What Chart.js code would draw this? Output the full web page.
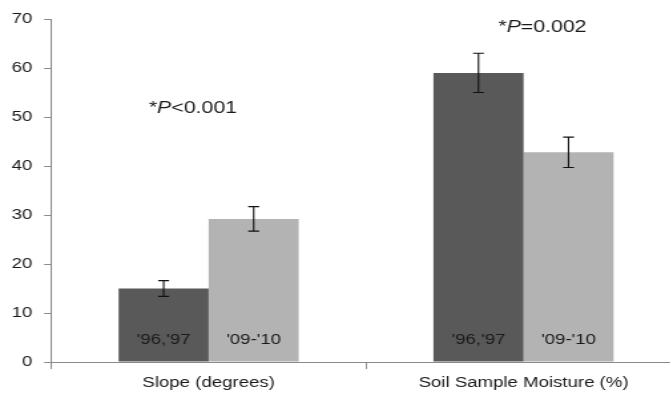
<!DOCTYPE html>
<html>
<head>
<meta charset="utf-8">
<script src="https://cdn.jsdelivr.net/npm/chart.js@4"></script>
<style>
  html, body { margin: 0; padding: 0; overflow: hidden; background: #fff; }
  /* the source figure is stretched sideways, so draw narrow and scale */
  #wrap { width: 513px; height: 403px; transform: scaleX(1.33); transform-origin: 0 0; }
</style>
</head>
<body>
<div id="wrap"><canvas id="chart"></canvas></div>
<script>
const categories = ['Slope (degrees)', 'Soil Sample Moisture (%)'];
const periods = ["'96,'97", "'09-'10"];
const earlyValues = [15, 59];
const lateValues = [29.2, 42.8];
const earlyErrors = [1.6, 4.0];
const lateErrors = [2.5, 3.1];
const pTexts = [['*', 'P', '<0.001'], ['*', 'P', '=0.002']];
const pTextX = [-0.05, 1.06];
const pTextY = [51.8, 68.2];
const periodLabelY = 4.5;

const FONT = '"Liberation Sans", Arial, sans-serif';
const errors = [earlyErrors, lateErrors];

const extras = {
    id: 'extras',
    afterDatasetsDraw(chart) {
        const ctx = chart.ctx;
        const y = chart.scales.y;
        const x = chart.scales.x;
        ctx.save();
        chart.data.datasets.forEach((ds, di) => {
            chart.getDatasetMeta(di).data.forEach((bar, i) => {
                const v = ds.data[i];
                const e = errors[di][i];
                const top = y.getPixelForValue(v + e);
                const bot = y.getPixelForValue(v - e);
                ctx.strokeStyle = '#111';
                ctx.lineWidth = 1.1;
                ctx.beginPath();
                ctx.moveTo(bar.x, top); ctx.lineTo(bar.x, bot);
                ctx.moveTo(bar.x - 4.1, top); ctx.lineTo(bar.x + 4.1, top);
                ctx.moveTo(bar.x - 4.1, bot); ctx.lineTo(bar.x + 4.1, bot);
                ctx.stroke();

                ctx.fillStyle = '#1a1a1a';
                ctx.font = '14px ' + FONT;
                ctx.textAlign = 'center';
                ctx.textBaseline = 'middle';
                ctx.fillText(ds.label, bar.x, y.getPixelForValue(periodLabelY));
            });
        });

        pTexts.forEach((parts, i) => {
            const fonts = ['16px ' + FONT, 'italic 16px ' + FONT, '16px ' + FONT];
            let w = 0;
            parts.forEach((p, k) => { ctx.font = fonts[k]; w += ctx.measureText(p).width; });
            let px = x.getPixelForValue(pTextX[i]) - w / 2;
            const py = y.getPixelForValue(pTextY[i]);
            ctx.fillStyle = '#1a1a1a';
            ctx.textAlign = 'left';
            ctx.textBaseline = 'middle';
            parts.forEach((p, k) => {
                ctx.font = fonts[k];
                ctx.fillText(p, px, py);
                px += ctx.measureText(p).width;
            });
        });
        ctx.restore();
    }
};

new Chart(document.getElementById('chart'), {
    type: 'bar',
    data: {
        labels: categories,
        datasets: [
            {
                label: periods[0],
                data: earlyValues,
                backgroundColor: '#595959',
                categoryPercentage: 0.572,
                barPercentage: 1.0,
            },
            {
                label: periods[1],
                data: lateValues,
                backgroundColor: '#b3b3b3',
                categoryPercentage: 0.572,
                barPercentage: 1.0,
            }
        ]
    },
    options: {
        responsive: true,
        maintainAspectRatio: false,
        animation: false,
        layout: { padding: { top: 19, right: 1, left: 0, bottom: 0 } },
        plugins: {
            legend: { display: false },
            tooltip: { enabled: false }
        },
        scales: {
            x: {
                grid: { drawOnChartArea: false, tickLength: 7, color: '#8a8a8a', offset: true },
                border: { color: '#8a8a8a' },
                ticks: { color: '#1a1a1a', font: { family: FONT, size: 14 }, padding: 6 },
                afterFit: s => { s.height = 41; }
            },
            y: {
                min: 0,
                max: 70,
                ticks: { stepSize: 10, color: '#1a1a1a', font: { family: FONT, size: 14 }, padding: 9 },
                grid: { drawOnChartArea: false, tickLength: 5.3, color: '#8a8a8a' },
                border: { color: '#8a8a8a' },
                afterFit: s => { s.width = 38.5; }
            }
        }
    },
    plugins: [extras]
});
</script>
</body>
</html>
